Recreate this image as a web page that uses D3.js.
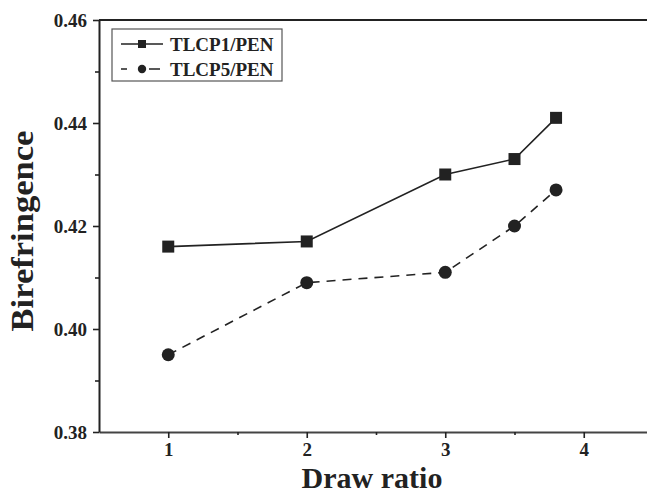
<!DOCTYPE html>
<html>
<head>
<meta charset="utf-8">
<script src="https://cdn.jsdelivr.net/npm/d3@7"></script>
<style>
  body { margin: 0; background: #fff; }
  text { font-family: "Liberation Serif", "Times New Roman", serif; font-weight: bold; fill: #222; }
</style>
</head>
<body>
<svg id="chart" width="647" height="495"></svg>
<script>
// data
var drawRatio = [1, 2, 3, 3.5, 3.8];
var tlcp1 = [0.416, 0.417, 0.430, 0.433, 0.441];
var tlcp5 = [0.395, 0.409, 0.411, 0.420, 0.427];
var seriesNames = ['TLCP1/PEN', 'TLCP5/PEN'];
var xTicks = [1, 2, 3, 4];
var yTicks = [0.38, 0.40, 0.42, 0.44, 0.46];

var ink = '#222';
var svg = d3.select('#chart');

// plot frame - right side runs past the window edge
var plotLeft = 99, plotTop = 20, plotBottom = 432, plotRight = 653;

var x = d3.scaleLinear().domain([0.5, 4.5]).range([plotLeft, plotRight]);
var y = d3.scaleLinear().domain([0.38, 0.46]).range([plotBottom, plotTop]);

// top border
svg.append('line')
  .attr('x1', plotLeft).attr('x2', plotRight)
  .attr('y1', plotTop).attr('y2', plotTop)
  .attr('stroke', ink).attr('stroke-width', 2);

// x axis
var xAxis = svg.append('g').attr('transform', 'translate(0,' + plotBottom + ')');
xAxis.call(d3.axisBottom(x).tickValues(xTicks).tickSize(6).tickPadding(5).tickSizeOuter(0).tickFormat(d3.format('d')));
xAxis.append('g').call(d3.axisBottom(x).tickValues([1.5, 2.5, 3.5]).tickSize(3).tickFormat('').tickSizeOuter(0))
  .select('.domain').remove();

// y axis
var yAxis = svg.append('g').attr('transform', 'translate(' + plotLeft + ',0)');
yAxis.call(d3.axisLeft(y).tickValues(yTicks).tickSize(6).tickPadding(6).tickSizeOuter(0).tickFormat(d3.format('.2f')));
yAxis.append('g').call(d3.axisLeft(y).tickValues([0.39, 0.41, 0.43, 0.45]).tickSize(4).tickFormat('').tickSizeOuter(0))
  .select('.domain').remove();

svg.selectAll('.domain').attr('stroke', ink).attr('stroke-width', 2);
xAxis.select('.domain').attr('stroke', '#444');
svg.selectAll('.tick line').attr('stroke', ink).attr('stroke-width', 1.6);
svg.selectAll('.tick text').attr('font-size', 19).attr('fill', ink)
  .attr('font-family', '"Liberation Serif", serif').attr('font-weight', 'bold');

// axis titles
svg.append('text')
  .attr('x', 372).attr('y', 488)
  .attr('text-anchor', 'middle')
  .attr('font-size', 30)
  .text('Draw ratio');

svg.append('text')
  .attr('transform', 'translate(33,231) rotate(-90) scale(1.08,1)')
  .attr('text-anchor', 'middle')
  .attr('font-size', 32)
  .text('Birefringence');

// lines
var line = d3.line()
  .x(function (d) { return x(d[0]); })
  .y(function (d) { return y(d[1]); });

var pts1 = d3.zip(drawRatio, tlcp1);
var pts5 = d3.zip(drawRatio, tlcp5);

svg.append('path').datum(pts1)
  .attr('d', line).attr('fill', 'none')
  .attr('stroke', ink).attr('stroke-width', 1.6);

svg.append('path').datum(pts5)
  .attr('d', line).attr('fill', 'none')
  .attr('stroke', ink).attr('stroke-width', 1.6)
  .attr('stroke-dasharray', '9,7');

// markers
svg.selectAll('rect.s1').data(pts1).enter().append('rect')
  .attr('class', 's1')
  .attr('x', function (d) { return x(d[0]) - 6; })
  .attr('y', function (d) { return y(d[1]) - 6; })
  .attr('width', 12).attr('height', 12)
  .attr('fill', ink);

svg.selectAll('circle.s5').data(pts5).enter().append('circle')
  .attr('class', 's5')
  .attr('cx', function (d) { return x(d[0]); })
  .attr('cy', function (d) { return y(d[1]); })
  .attr('r', 6.5)
  .attr('fill', ink);

// legend
var lg = svg.append('g');
lg.append('rect')
  .attr('x', 112).attr('y', 29).attr('width', 170).attr('height', 52)
  .attr('fill', '#fff').attr('stroke', '#555').attr('stroke-width', 1.2);

var rowY = [44, 69];
lg.append('line').attr('x1', 121).attr('x2', 163).attr('y1', rowY[0]).attr('y2', rowY[0])
  .attr('stroke', ink).attr('stroke-width', 1.6);
lg.append('rect').attr('x', 138).attr('y', rowY[0] - 4).attr('width', 8).attr('height', 8).attr('fill', ink);

lg.append('line').attr('x1', 121).attr('x2', 160).attr('y1', rowY[1]).attr('y2', rowY[1])
  .attr('stroke', ink).attr('stroke-width', 1.6).attr('stroke-dasharray', '6,22,11');
lg.append('circle').attr('cx', 142).attr('cy', rowY[1]).attr('r', 4.2).attr('fill', ink);

lg.selectAll('text.lab').data(seriesNames).enter().append('text')
  .attr('class', 'lab')
  .attr('x', 170)
  .attr('y', function (d, i) { return rowY[i] + 7; })
  .attr('font-size', 19)
  .text(function (d) { return d; });
</script>
</body>
</html>
